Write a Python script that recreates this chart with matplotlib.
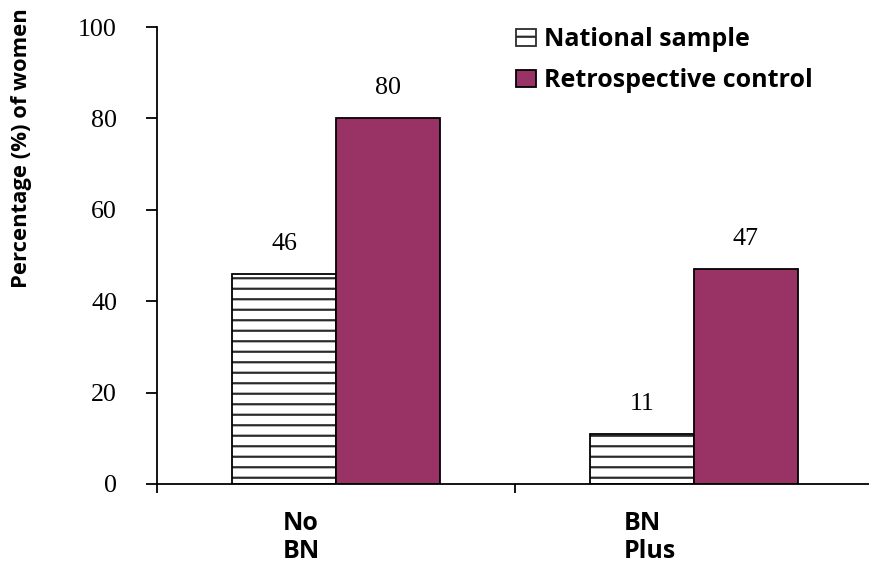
import matplotlib
matplotlib.use("Agg")
import matplotlib.pyplot as plt
from matplotlib.patches import Patch
import numpy as np

categories = ["No\nBN", "BN\nPlus"]
series_names = ["National sample", "Retrospective control"]
national = [46, 11]
retrospective = [80, 47]
y_ticks = [0, 20, 40, 60, 80, 100]

DPI = 63
W, H = 869, 570
PT = 72.0 / DPI  # points per pixel at this dpi

plum = "#993366"
serif = ["Liberation Serif", "DejaVu Serif"]
sans_bold = ["Open Sans", "DejaVu Sans"]
edge_lw = 1.8 * PT

plt.rcParams["hatch.linewidth"] = 2.2 * PT

fig = plt.figure(figsize=(W / DPI, H / DPI), dpi=DPI)
ax = fig.add_axes([157 / W, 86 / H, 716 / W, 457 / H])

x = np.arange(len(categories))
bw = 0.29

# hatched bars: hatch drawn in dark grey, outline redrawn in black on top
ax.bar(x - bw / 2, national, bw, color="white", edgecolor="#2b2b2b",
       hatch="-", linewidth=0)
ax.bar(x - bw / 2, national, bw, fill=False, edgecolor="black", linewidth=edge_lw)
ax.bar(x + bw / 2, retrospective, bw, color=plum, edgecolor="black",
       linewidth=edge_lw)

for xs, vals in ((x - bw / 2, national), (x + bw / 2, retrospective)):
    for xi, v in zip(xs, vals):
        ax.annotate(f"{v}", (xi, v), xytext=(0, 30 * PT), textcoords="offset points",
                    ha="center", va="center", fontsize=26 * PT, family=serif)

ax.set_xlim(-0.5, 1.5)
ax.set_ylim(0, 100)
ax.set_yticks(y_ticks)
ax.set_yticklabels([str(t) for t in y_ticks], family=serif, fontsize=26 * PT)
ax.set_xticks([-0.5, 0.5, 1.5])
ax.set_xticklabels([])
ax.tick_params(axis="y", direction="out", length=11 * PT, width=edge_lw, pad=29 * PT)
ax.tick_params(axis="x", direction="out", length=9 * PT, width=edge_lw)
for s in ("top", "right"):
    ax.spines[s].set_visible(False)
for s in ("left", "bottom"):
    ax.spines[s].set_linewidth(edge_lw)

# category labels under each group
label_shift = [-0.097, -0.123]
for xi, lab, sh in zip(x, categories, label_shift):
    ax.text(xi + sh, -0.058, lab, transform=ax.get_xaxis_transform(),
            ha="center", va="top", multialignment="left",
            fontsize=25 * PT, fontweight="bold", family=sans_bold, linespacing=1.2)

fig.text(22 / W, 1 - 148 / H, "Percentage (%) of women", rotation=90,
         ha="center", va="center", fontsize=22 * PT, fontweight="bold", family=sans_bold)

handles = [Patch(facecolor="white", edgecolor="#2b2b2b", hatch="-", linewidth=edge_lw),
           Patch(facecolor=plum, edgecolor="black", linewidth=edge_lw)]
fig.legend(handles, series_names, loc="upper left",
           bbox_to_anchor=(498 / W, 1 - 10 / H), frameon=False,
           prop={"family": sans_bold, "weight": "bold", "size": 25 * PT},
           handlelength=0.8, handleheight=0.65, handletextpad=0.32,
           labelspacing=0.62, borderpad=0.2)

fig.savefig("out.png", dpi=DPI)
